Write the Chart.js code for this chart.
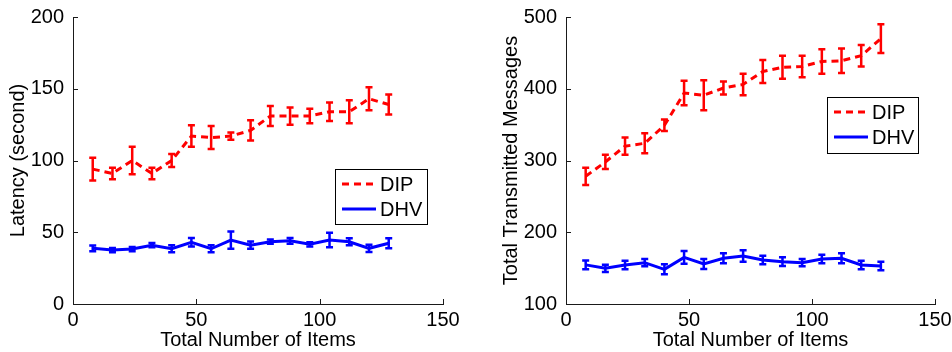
<!DOCTYPE html>
<html>
<head>
<meta charset="utf-8">
<script src="https://cdn.jsdelivr.net/npm/chart.js@4.4.0/dist/chart.umd.min.js"></script>
<style>
  html, body { margin: 0; padding: 0; background: #fff; }
  #wrap { position: relative; width: 952px; height: 352px; }
  .box { position: absolute; top: 0; width: 476px; height: 352px; }
  #b1 { left: 0; }
  #b2 { left: 476px; }
</style>
</head>
<body>
<div id="wrap">
  <div class="box" id="b1"><canvas id="c1" width="476" height="352"></canvas></div>
  <div class="box" id="b2"><canvas id="c2" width="476" height="352"></canvas></div>
</div>
<script>
// ---- Data ----
const items = [8, 16, 24, 32, 40, 48, 56, 64, 72, 80, 88, 96, 104, 112, 120, 128];

const latencyDIP    = [94, 91, 100, 91, 100, 117, 116, 117, 121, 131, 131, 131, 134, 134, 143, 139];
const latencyDIPErr = [8, 4, 9.5, 4, 4.5, 7.5, 8, 2.5, 7, 7, 6, 5, 6.5, 8, 8, 7];
const latencyDHV    = [38.8, 37.6, 38.3, 41, 38.5, 43, 38.5, 44.5, 41, 43.4, 44, 41.6, 44.6, 43.4, 38.8, 42.3];
const latencyDHVErr = [2, 1.5, 1.5, 1.5, 2.5, 3, 2.5, 6, 2.5, 1.5, 2, 1.5, 5, 2.5, 2.5, 3.5];

const msgDIP    = [278, 298, 320, 324, 349, 394, 391, 401, 406, 424, 430, 431, 438, 439, 446, 470];
const msgDIPErr = [12, 10, 12, 14, 8, 17, 21, 9, 15, 16, 16, 15, 17, 17, 15, 20];
const msgDHV    = [154.5, 149.7, 154.4, 157.6, 148.3, 165, 155.7, 163.7, 166.9, 161.3, 159, 157.6, 162.7, 163.7, 154.4, 153];
const msgDHVErr = [6, 5, 6, 5, 7, 9, 7, 7, 8, 6, 6, 5, 6, 7, 6, 6];

const seriesNames = ['DIP', 'DHV'];
const xTitle = 'Total Number of Items';
const yTitles = ['Latency (second)', 'Total Transmitted Messages'];

const FONT = '"Liberation Sans", Arial, Helvetica, sans-serif';
const RED = '#ff0000';
const BLUE = '#0000ff';
const AXIS = '#1a1a1a';

// ---- Plugins ----
const errorBars = {
  id: 'errorBars',
  afterDatasetsDraw(chart) {
    const ctx = chart.ctx;
    const xs = chart.scales.x, ys = chart.scales.y;
    chart.data.datasets.forEach((ds) => {
      if (!ds.errors) return;
      ctx.save();
      ctx.strokeStyle = ds.borderColor;
      ctx.lineWidth = 2.5;
      ctx.setLineDash([]);
      ds.data.forEach((p, i) => {
        const e = ds.errors[i];
        const px = xs.getPixelForValue(p.x);
        const top = ys.getPixelForValue(p.y + e);
        const bot = ys.getPixelForValue(p.y - e);
        ctx.beginPath();
        ctx.moveTo(px, top); ctx.lineTo(px, bot);
        ctx.moveTo(px - 3.5, top); ctx.lineTo(px + 3.5, top);
        ctx.moveTo(px - 3.5, bot); ctx.lineTo(px + 3.5, bot);
        ctx.stroke();
      });
      ctx.restore();
    });
  }
};

const innerTicks = {
  id: 'innerTicks',
  afterDraw(chart) {
    const ctx = chart.ctx;
    const xs = chart.scales.x, ys = chart.scales.y;
    const a = chart.chartArea;
    ctx.save();
    ctx.strokeStyle = AXIS;
    ctx.lineWidth = 1;
    ctx.beginPath();
    xs.ticks.forEach(t => {
      const px = Math.round(xs.getPixelForValue(t.value)) + 0.5;
      ctx.moveTo(px, a.bottom); ctx.lineTo(px, a.bottom - 5);
    });
    ys.ticks.forEach(t => {
      const py = Math.round(ys.getPixelForValue(t.value)) + 0.5;
      ctx.moveTo(a.left, py); ctx.lineTo(a.left + 5, py);
    });
    ctx.stroke();
    ctx.restore();
  }
};

const boxLegend = {
  id: 'boxLegend',
  afterDraw(chart, args, opts) {
    const ctx = chart.ctx;
    const {x, y, w, h} = opts;
    ctx.save();
    ctx.fillStyle = '#fff';
    ctx.fillRect(x, y, w, h);
    ctx.strokeStyle = '#000';
    ctx.lineWidth = 1;
    ctx.strokeRect(x + 0.5, y + 0.5, w, h);
    chart.data.datasets.forEach((ds, i) => {
      const cy = y + 15 + i * 25;
      ctx.strokeStyle = ds.borderColor;
      ctx.lineWidth = ds.borderWidth;
      ctx.setLineDash(ds.borderDash || []);
      ctx.beginPath();
      ctx.moveTo(x + 7, cy); ctx.lineTo(x + 41, cy);
      ctx.stroke();
      ctx.setLineDash([]);
      ctx.fillStyle = '#000';
      ctx.font = '20px ' + FONT;
      ctx.textBaseline = 'middle';
      ctx.textAlign = 'left';
      ctx.fillText(ds.label, x + 45, cy + 1);
    });
    ctx.restore();
  }
};

function makeChart(id, dip, dipErr, dhv, dhvErr, yMin, yMax, yStep, yTitle, yWidth, padRight, titlePad, legendPos) {
  const toPts = (arr) => items.map((x, i) => ({x: x, y: arr[i]}));
  return new Chart(document.getElementById(id), {
    type: 'line',
    data: {
      datasets: [
        { label: seriesNames[0], data: toPts(dip), errors: dipErr, borderColor: RED, backgroundColor: RED,
          borderWidth: 3, borderDash: [7, 5], pointRadius: 0, tension: 0, fill: false },
        { label: seriesNames[1], data: toPts(dhv), errors: dhvErr, borderColor: BLUE, backgroundColor: BLUE,
          borderWidth: 3, pointRadius: 0, tension: 0, fill: false }
      ]
    },
    options: {
      responsive: false,
      animation: false,
      events: [],
      layout: { padding: { top: 17, right: padRight, left: 0, bottom: 0 } },
      plugins: {
        legend: { display: false },
        tooltip: { enabled: false },
        boxLegend: legendPos
      },
      scales: {
        x: {
          type: 'linear', min: 0, max: 150,
          ticks: { stepSize: 50, color: '#000', font: { family: FONT, size: 20 }, padding: 4, maxRotation: 0 },
          grid: { display: false, drawTicks: false },
          border: { display: true, color: AXIS, width: 1 },
          title: { display: true, text: xTitle, color: '#000', font: { family: FONT, size: 20 }, padding: { top: 0, bottom: 0 } },
          afterFit(s) { s.height = 48; s.paddingLeft = 0; s.paddingRight = 0; }
        },
        y: {
          type: 'linear', min: yMin, max: yMax,
          ticks: { stepSize: yStep, color: '#000', font: { family: FONT, size: 20 }, padding: 9 },
          grid: { display: false, drawTicks: false },
          border: { display: true, color: AXIS, width: 1 },
          title: { display: true, text: yTitle, color: '#000', font: { family: FONT, size: 20 }, padding: { top: titlePad, bottom: 0 } },
          afterFit(s) { s.width = yWidth; s.paddingTop = 0; s.paddingBottom = 0; }
        }
      }
    },
    plugins: [errorBars, innerTicks, boxLegend]
  });
}

makeChart('c1', latencyDIP, latencyDIPErr, latencyDHV, latencyDHVErr, 0, 200, 50, yTitles[0], 73, 33, 6,
  { x: 335, y: 169, w: 92, h: 55 });
makeChart('c2', msgDIP, msgDIPErr, msgDHV, msgDHVErr, 100, 500, 100, yTitles[1], 90, 17, 23,
  { x: 351, y: 97, w: 91, h: 56 });
</script>
</body>
</html>
